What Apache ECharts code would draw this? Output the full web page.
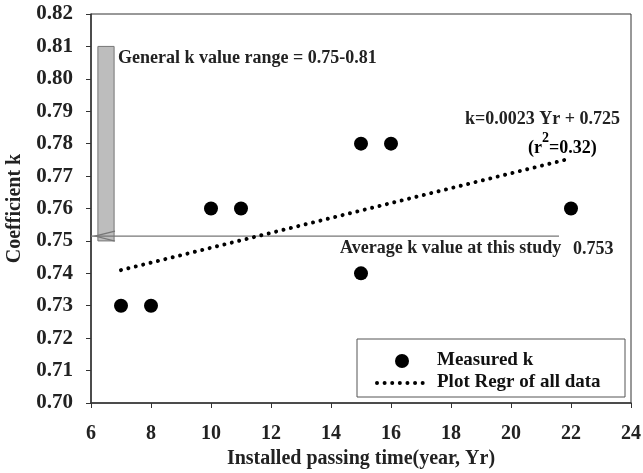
<!DOCTYPE html>
<html>
<head>
<meta charset="utf-8">
<script src="https://cdn.jsdelivr.net/npm/echarts@6/dist/echarts.min.js"></script>
<style>
  html, body { margin: 0; padding: 0; background: #fff; }
  #chart { width: 643px; height: 473px; }
</style>
</head>
<body>
<div id="chart"></div>
<script>
// measured points
const yearsInstalled = [7, 8, 10, 11, 15, 16, 15, 22];
const kMeasured = [0.73, 0.73, 0.76, 0.76, 0.78, 0.78, 0.74, 0.76];

// regression line end points (k = 0.0023 Yr + 0.725)
const regrYears = [7, 21.8];
const regrK = [0.741, 0.775];

// general k range bar and average line
const rangeYears = [6.23, 6.77];
const rangeK = [0.75, 0.81];
const avgYears = [6, 21.6];
const avgK = 0.7515;

const xTicks = [6, 24, 2];
const yTicks = [0.70, 0.82, 0.01];

const font = '"Liberation Serif", "Times New Roman", serif';
const dotted = [0.01, 7.6];
const chart = echarts.init(document.getElementById('chart'));

chart.setOption({
  animation: false,
  grid: {
    left: 91, right: 12, top: 14, bottom: 70,
    outerBoundsMode: 'none',
    show: true, borderColor: '#333', borderWidth: 1
  },
  xAxis: {
    type: 'value',
    min: xTicks[0], max: xTicks[1], interval: xTicks[2],
    name: 'Installed passing time(year, Yr)',
    nameLocation: 'middle', nameGap: 45,
    nameTextStyle: { fontFamily: font, fontWeight: 'bold', fontSize: 20, color: '#222' },
    axisLine: { lineStyle: { color: '#333', width: 1.5 } },
    axisTick: { length: 5, lineStyle: { color: '#333' } },
    axisLabel: { margin: 21, fontFamily: font, fontWeight: 'bold', fontSize: 20, color: '#222' },
    splitLine: { show: false }
  },
  yAxis: {
    type: 'value',
    min: yTicks[0], max: yTicks[1], interval: yTicks[2],
    name: 'Coefficient k',
    nameLocation: 'middle', nameGap: 66, nameRotate: 90,
    nameTextStyle: { fontFamily: font, fontWeight: 'bold', fontSize: 20, color: '#222' },
    axisLine: { lineStyle: { color: '#333', width: 1.5 } },
    axisTick: { length: 5, lineStyle: { color: '#333' } },
    axisLabel: {
      margin: 18, fontFamily: font, fontWeight: 'bold', fontSize: 21, color: '#222',
      formatter: v => v.toFixed(2)
    },
    splitLine: { show: false }
  },
  series: [
    {
      name: 'range',
      type: 'custom',
      silent: true,
      data: [[rangeYears[0], rangeYears[1], rangeK[0], rangeK[1]]],
      renderItem: (params, api) => {
        const p0 = api.coord([api.value(0), api.value(3)]);
        const p1 = api.coord([api.value(1), api.value(2)]);
        return {
          type: 'rect',
          shape: { x: p0[0], y: p0[1], width: p1[0] - p0[0], height: p1[1] - p0[1] },
          style: { fill: '#bdbdbd', stroke: '#777', lineWidth: 1 }
        };
      }
    },
    {
      name: 'average',
      type: 'custom',
      silent: true,
      data: [[avgYears[0], avgYears[1], avgK]],
      renderItem: (params, api) => {
        const a = api.coord([api.value(0), api.value(2)]);
        const b = api.coord([api.value(1), api.value(2)]);
        const tip = a[0] + 4;
        return {
          type: 'group',
          children: [
            { type: 'line', shape: { x1: a[0], y1: a[1], x2: b[0], y2: b[1] },
              style: { stroke: '#777', lineWidth: 1.2 } },
            { type: 'polyline', shape: { points: [[tip + 20, a[1] - 5], [tip, a[1]], [tip + 20, a[1] + 5]] },
              style: { stroke: '#777', fill: null, lineWidth: 1.2 } }
          ]
        };
      }
    },
    {
      name: 'Plot Regr of all data',
      type: 'line',
      symbol: 'none',
      silent: true,
      data: regrYears.map((x, i) => [x, regrK[i]]),
      lineStyle: { color: '#000', width: 4, type: dotted, cap: 'round' }
    },
    {
      name: 'Measured k',
      type: 'scatter',
      symbolSize: 14,
      data: yearsInstalled.map((x, i) => [x, kMeasured[i]]),
      itemStyle: { color: '#000', opacity: 1 }
    }
  ],
  graphic: [
    { type: 'text', left: 118, top: 49,
      style: { text: 'General k value range = 0.75-0.81', font: 'bold 18px ' + font, fill: '#222' } },
    { type: 'text', left: 465, top: 110,
      style: { text: 'k=0.0023 Yr + 0.725', font: 'bold 18px ' + font, fill: '#222' } },
    { type: 'text', left: 528, top: 131,
      style: {
        text: '{n|(r}{s|2}{n|=0.32)}',
        rich: {
          n: { fontFamily: font, fontWeight: 'bold', fontSize: 18, color: '#222', lineHeight: 26, verticalAlign: 'bottom' },
          s: { fontFamily: font, fontWeight: 'bold', fontSize: 14, color: '#222', lineHeight: 26, verticalAlign: 'top' }
        }
      } },
    { type: 'text', left: 340, top: 239,
      style: { text: 'Average k value at this study', font: 'bold 18px ' + font, fill: '#222' } },
    { type: 'text', left: 573, top: 240,
      style: { text: '0.753', font: 'bold 18px ' + font, fill: '#222' } },
    // legend
    { type: 'rect', shape: { x: 357, y: 339, width: 268, height: 58 },
      style: { fill: '#fff', stroke: '#555', lineWidth: 1 }, z: 10 },
    { type: 'circle', shape: { cx: 402, cy: 361, r: 7 }, style: { fill: '#000' }, z: 11 },
    { type: 'text', left: 437, top: 351,
      style: { text: 'Measured k', font: 'bold 19px ' + font, fill: '#111' }, z: 11 },
    { type: 'line', shape: { x1: 377, y1: 383, x2: 427, y2: 383 },
      style: { stroke: '#000', lineWidth: 4, lineDash: dotted, lineCap: 'round' }, z: 11 },
    { type: 'text', left: 437, top: 373,
      style: { text: 'Plot Regr of all data', font: 'bold 19px ' + font, fill: '#111' }, z: 11 }
  ]
});
</script>
</body>
</html>
